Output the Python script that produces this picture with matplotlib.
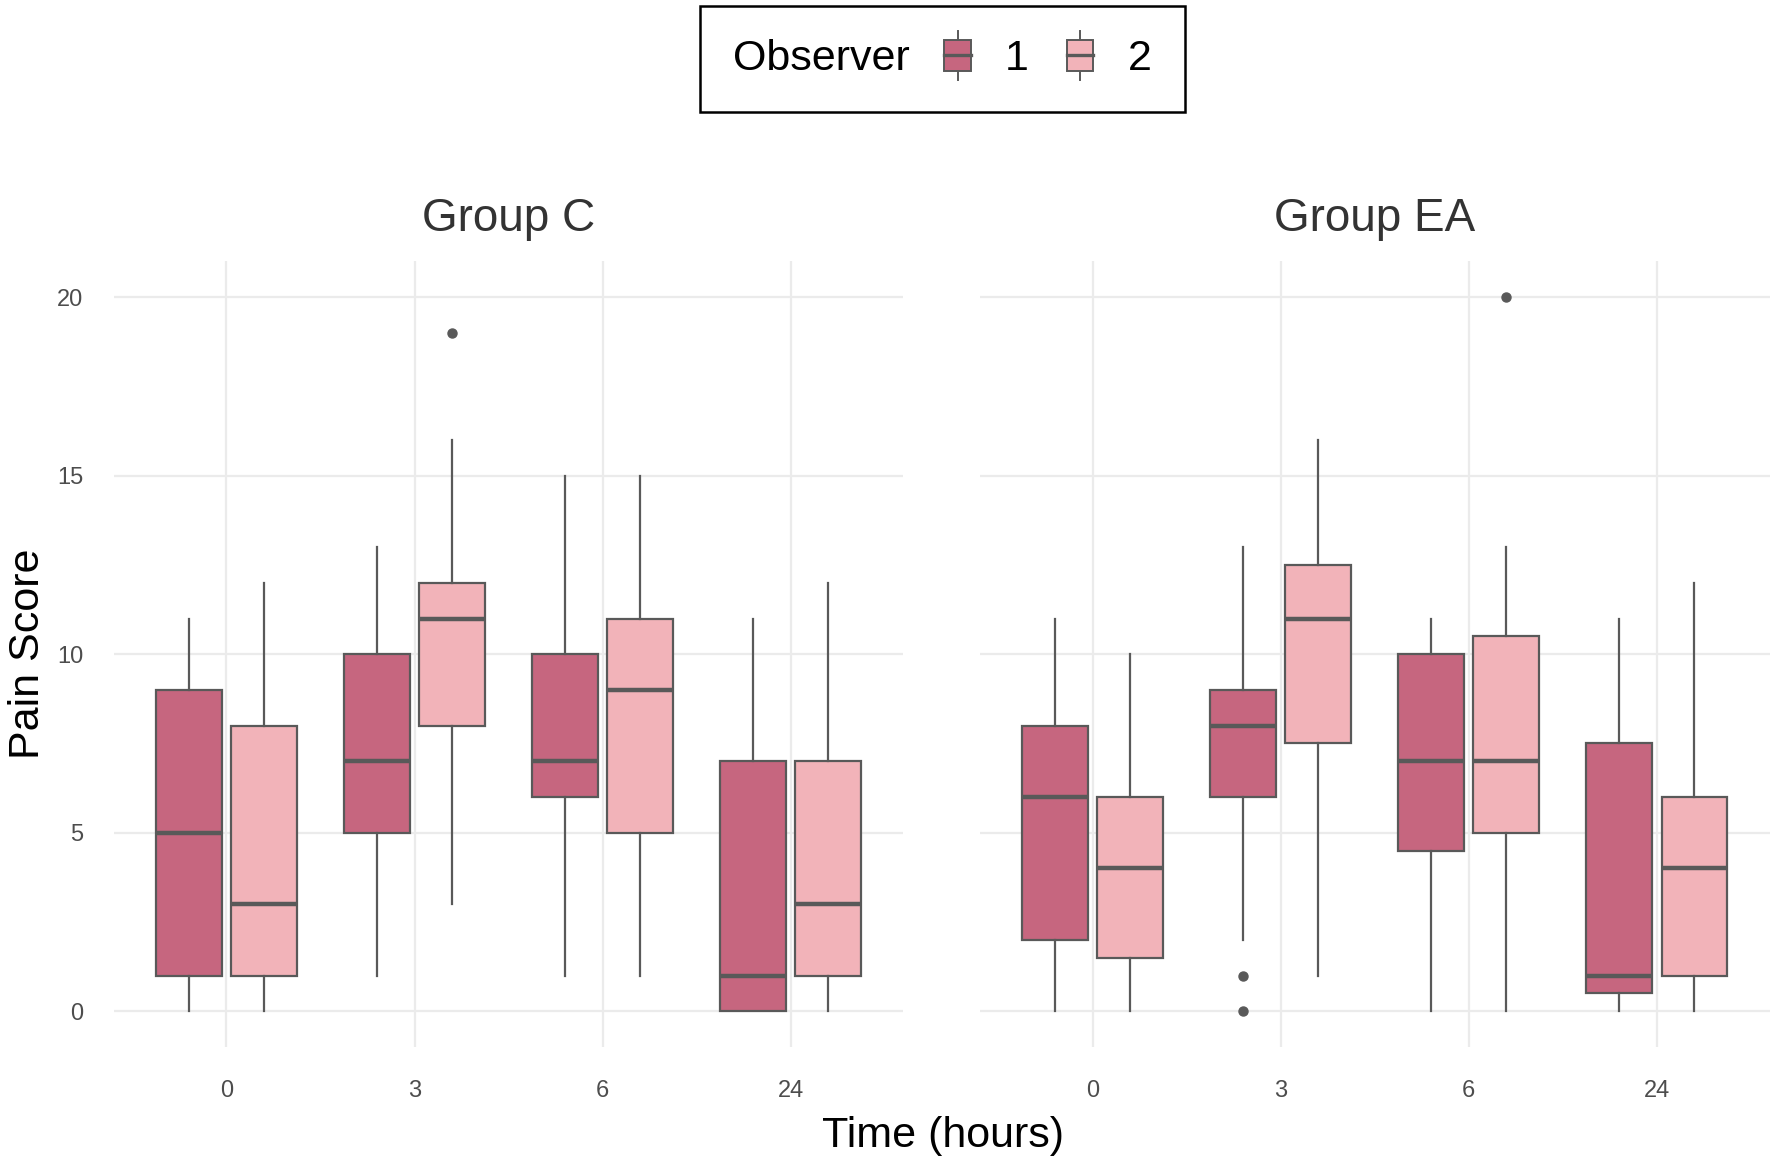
import numpy as np
import matplotlib.pyplot as plt
from matplotlib.patches import Rectangle, Patch
from matplotlib.lines import Line2D
from matplotlib.legend_handler import HandlerBase
from matplotlib.offsetbox import HPacker

plt.rcParams['font.family'] = ['Liberation Sans', 'DejaVu Sans']

# --- data ---
times = ["0", "3", "6", "24"]
groups = ["Group C", "Group EA"]
observers = ["1", "2"]

# each entry: (whisker low, q1, median, q3, whisker high)
c_obs1 = [(0, 1, 5, 9, 11), (1, 5, 7, 10, 13), (1, 6, 7, 10, 15), (0, 0, 1, 7, 11)]
c_obs2 = [(0, 1, 3, 8, 12), (3, 8, 11, 12, 16), (1, 5, 9, 11, 15), (0, 1, 3, 7, 12)]
ea_obs1 = [(0, 2, 6, 8, 11), (2, 6, 8, 9, 13), (0, 4.5, 7, 10, 11), (0, 0.5, 1, 7.5, 11)]
ea_obs2 = [(0, 1.5, 4, 6, 10), (1, 7.5, 11, 12.5, 16), (0, 5, 7, 10.5, 13), (0, 1, 4, 6, 12)]

c_fliers1 = [[], [], [], []]
c_fliers2 = [[], [19], [], []]
ea_fliers1 = [[], [1, 0], [], []]
ea_fliers2 = [[], [], [20], []]

panel_stats = [(c_obs1, c_obs2), (ea_obs1, ea_obs2)]
panel_fliers = [(c_fliers1, c_fliers2), (ea_fliers1, ea_fliers2)]

colors = ["#C6667F", "#F2B3B9"]
edge = "#595959"
grid_c = "#EBEBEB"


def make_stats(rows, fliers):
    out = []
    for (lo, q1, med, q3, hi), fl in zip(rows, fliers):
        out.append(dict(whislo=lo, q1=q1, med=med, q3=q3, whishi=hi, fliers=fl))
    return out


class BoxKey(HandlerBase):
    def create_artists(self, legend, orig_handle, xdescent, ydescent,
                       width, height, fontsize, trans):
        fc = orig_handle.get_facecolor()
        cx = width / 2 - xdescent
        bw = height * 0.85
        bh = height * 1.0
        y0 = -ydescent + (height - bh) / 2
        w1 = Line2D([cx, cx], [y0 - height * 0.3, y0 + bh + height * 0.3],
                    color=edge, lw=1.4, transform=trans)
        r = Rectangle((cx - bw / 2, y0), bw, bh, facecolor=fc,
                      edgecolor=edge, lw=1.4, transform=trans)
        m = Line2D([cx - bw / 2, cx + bw / 2], [y0 + bh / 2, y0 + bh / 2],
                   color=edge, lw=2.4, transform=trans)
        return [w1, r, m]


fig = plt.figure(figsize=(17.75, 11.62), dpi=100)
axes = [fig.add_axes([0.064, 0.099, 0.445, 0.676]),
        fig.add_axes([0.552, 0.099, 0.445, 0.676])]

xpos = np.arange(len(times))
offset = 0.2
bw = 0.35

for k, ax in enumerate(axes):
    for j in range(2):
        st = make_stats(panel_stats[k][j], panel_fliers[k][j])
        ax.bxp(st, positions=xpos + (2 * j - 1) * offset, widths=bw,
               showfliers=True, patch_artist=True, showcaps=False,
               boxprops=dict(facecolor=colors[j], edgecolor=edge, linewidth=1.6),
               whiskerprops=dict(color=edge, linewidth=1.6),
               medianprops=dict(color=edge, linewidth=3.2),
               flierprops=dict(marker='o', markerfacecolor=edge,
                               markeredgecolor=edge, markersize=6.5),
               zorder=3)
    ax.set_xlim(-0.6, 3.6)
    ax.set_ylim(-1, 21)
    ax.set_xticks(xpos)
    ax.set_xticklabels(times)
    ax.set_yticks([0, 5, 10, 15, 20])
    ax.grid(True, color=grid_c, linewidth=1.6, zorder=0)
    ax.set_axisbelow(True)
    for s in ax.spines.values():
        s.set_visible(False)
    ax.tick_params(axis='x', length=0, labelsize=17, labelcolor="#4D4D4D", pad=24)
    ax.tick_params(axis='y', length=0, labelsize=17, labelcolor="#4D4D4D", pad=22)
    ax.set_title(groups[k], fontsize=33, color="#333333", pad=22)

axes[1].tick_params(labelleft=False)

fig.text(0.016, 0.437, "Pain Score", rotation=90, fontsize=31,
         ha='center', va='center')
fig.text(0.531, 0.022, "Time (hours)", fontsize=31, ha='center', va='center')

handles = [Patch(facecolor=c) for c in colors]
fs = 31
leg = fig.legend(handles, observers, title="Observer", ncol=2,
                 loc='center', bbox_to_anchor=(0.531, 0.949),
                 handler_map={Patch: BoxKey()}, fontsize=fs,
                 title_fontsize=fs, frameon=True, fancybox=False,
                 edgecolor="black", framealpha=1, handlelength=0.7,
                 handleheight=0.72, handletextpad=0.75, columnspacing=0.85,
                 borderpad=0.77)
leg.get_frame().set_linewidth(1.8)
# put the legend title to the left of the keys, like ggplot
box = HPacker(pad=leg.borderpad * fs, sep=0.75 * fs, align="center",
              children=[leg._legend_title_box, leg._legend_handle_box])
box.set_figure(fig)
box.set_offset(leg._findoffset)
leg._legend_box = box

fig.savefig("out.png", dpi=100)
